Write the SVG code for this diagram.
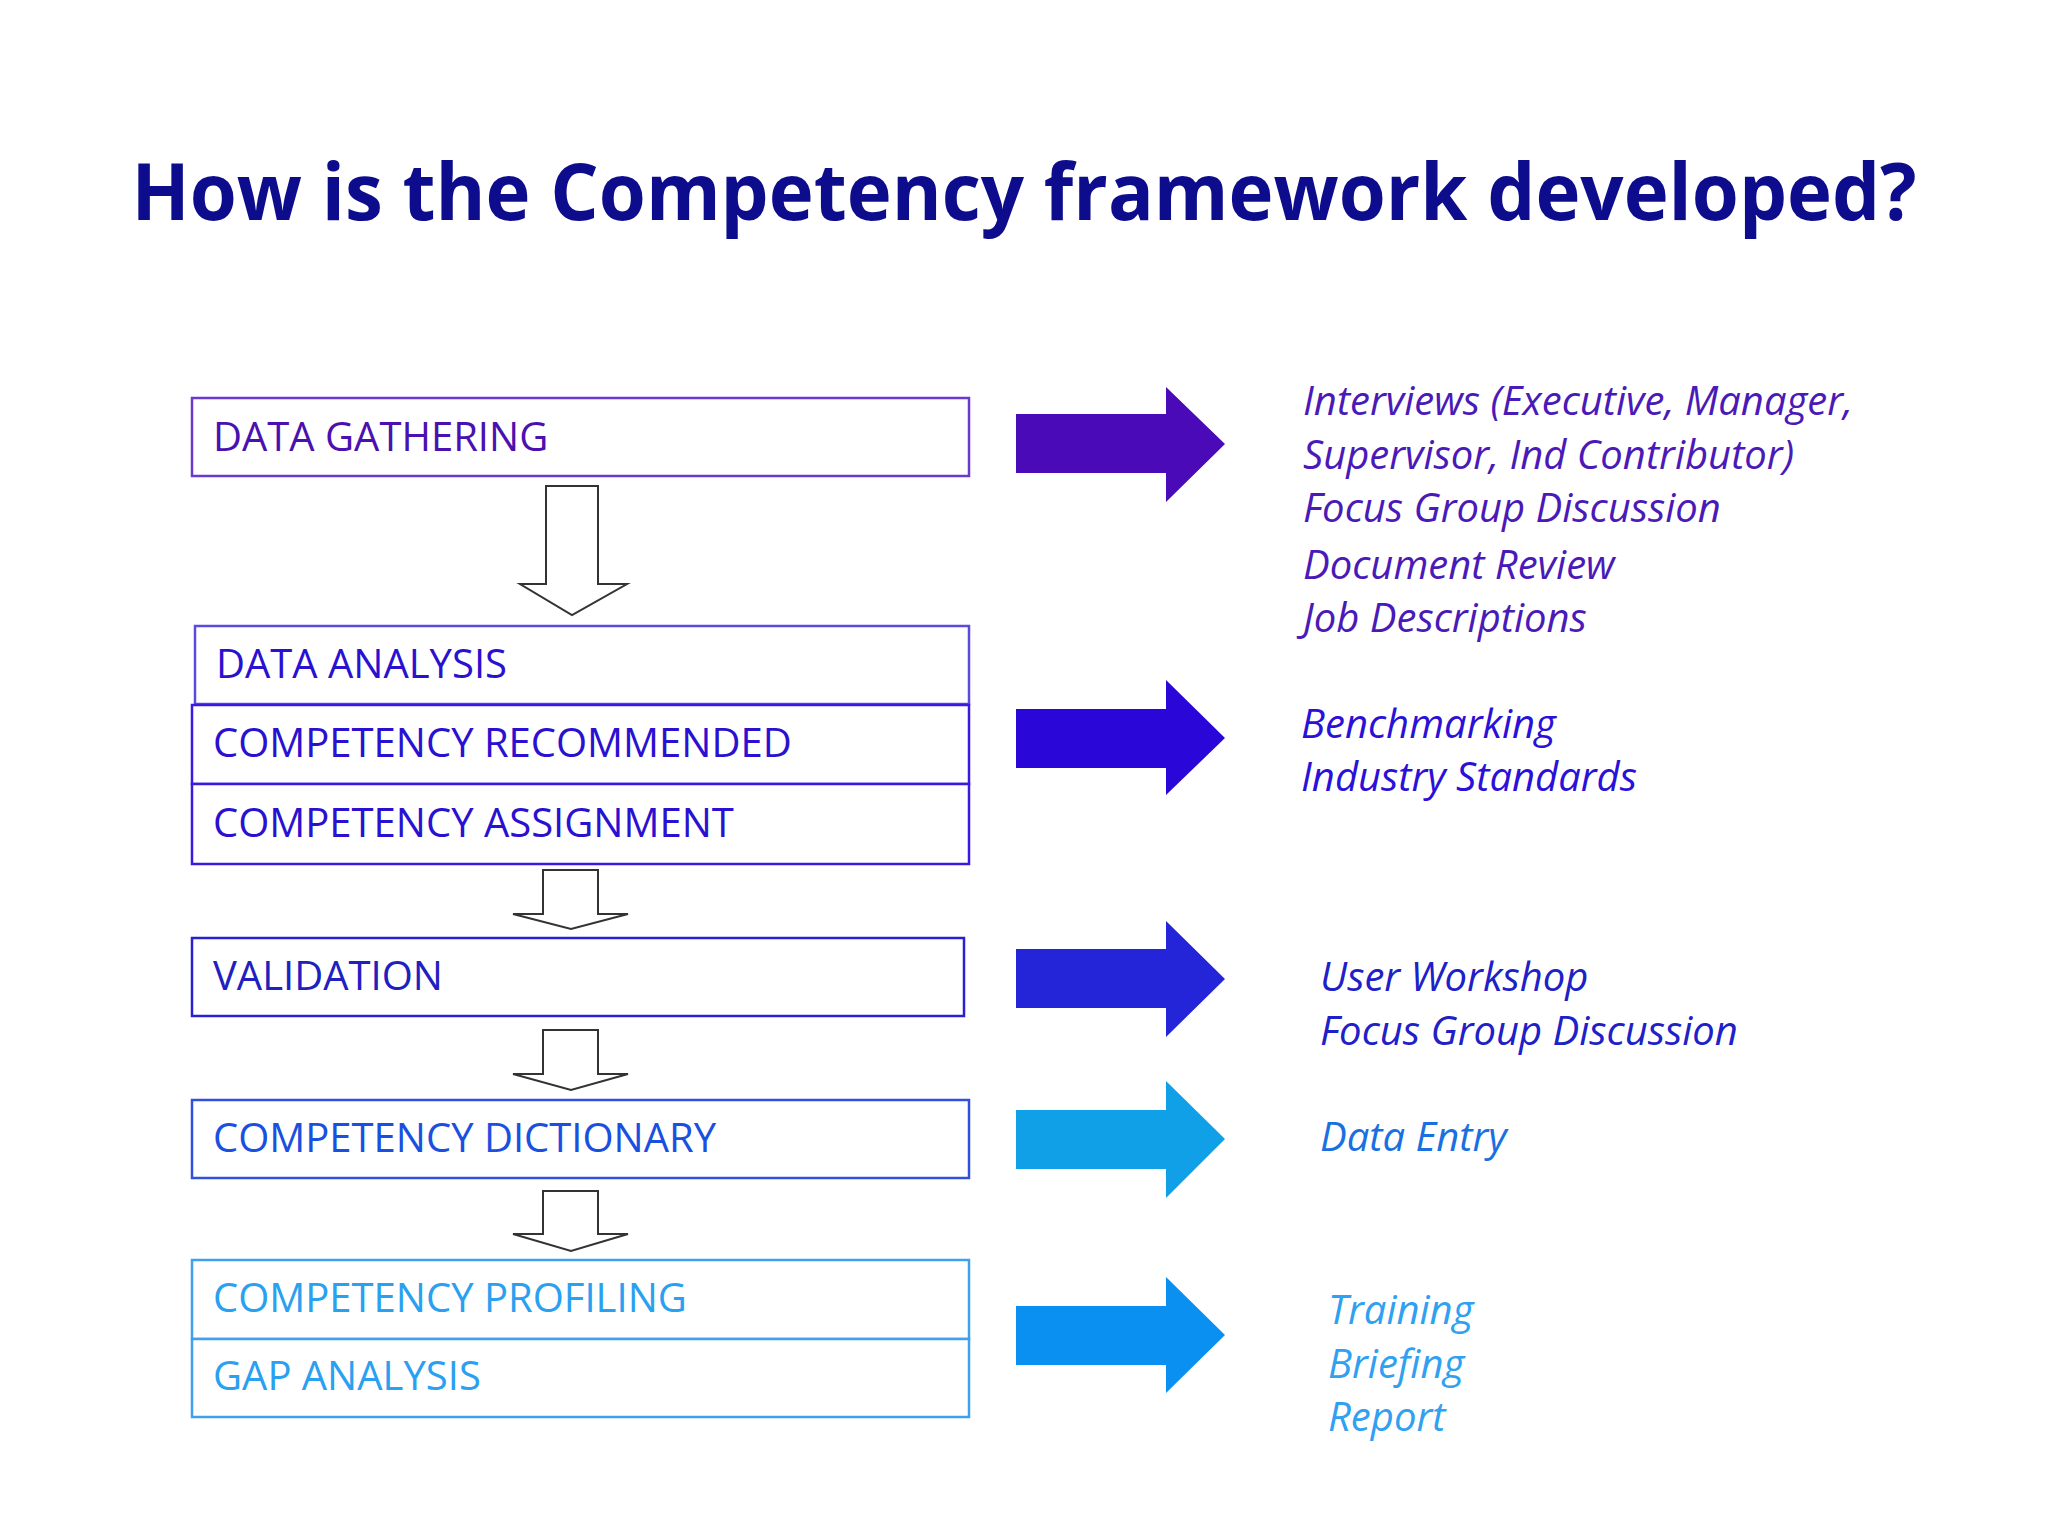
<svg xmlns="http://www.w3.org/2000/svg" width="2048" height="1536" viewBox="0 0 2048 1536">
<style>
.t{font-family:"Open Sans","Noto Sans",sans-serif;font-size:40px}
.r{font-family:"Open Sans","Noto Sans",sans-serif;font-size:40px;font-style:italic}
.box{fill:#fff;stroke-width:2.5}
.down{fill:#fff;stroke:#333;stroke-width:2}
</style>
<rect width="2048" height="1536" fill="#fff"/>
<text x="1024" y="220" text-anchor="middle" font-family="'Open Sans','Noto Sans',sans-serif" font-weight="bold" font-size="78" fill="#0c0c8c" textLength="1785" lengthAdjust="spacingAndGlyphs">How is the Competency framework developed?</text>
<g id="n1"><rect class="box" x="192" y="398" width="777" height="78" stroke="#6a3ad0"/><text class="t" x="213" y="451" fill="#4a10b0">DATA GATHERING</text></g>
<g id="n2"><rect class="box" x="195" y="626" width="774" height="78" stroke="#5a4ae0"/><text class="t" x="216" y="678" fill="#2a10d0">DATA ANALYSIS</text></g>
<g id="n3"><rect class="box" x="192" y="705" width="777" height="79" stroke="#3a1ae0"/><text class="t" x="213" y="757" fill="#2a10d0">COMPETENCY RECOMMENDED</text></g>
<g id="n4"><rect class="box" x="192" y="784" width="777" height="80" stroke="#3a1ae0"/><text class="t" x="213" y="837" fill="#2a10d0">COMPETENCY ASSIGNMENT</text></g>
<g id="n5"><rect class="box" x="192" y="938" width="772" height="78" stroke="#2a20d0"/><text class="t" x="213" y="990" fill="#2020c0">VALIDATION</text></g>
<g id="n6"><rect class="box" x="192" y="1100" width="777" height="78" stroke="#3050e0"/><text class="t" x="213" y="1152" fill="#1a50e0">COMPETENCY DICTIONARY</text></g>
<g id="n7"><rect class="box" x="192" y="1260" width="777" height="79" stroke="#40a0f0"/><text class="t" x="213" y="1312" fill="#2aa0f0">COMPETENCY PROFILING</text></g>
<g id="n8"><rect class="box" x="192" y="1339" width="777" height="78" stroke="#40a0f0"/><text class="t" x="213" y="1390" fill="#2aa0f0">GAP ANALYSIS</text></g>
<g id="connectors">
<path class="down" d="M546 486H598V584H627L572 615L520 584H546Z"/>
<path class="down" d="M543 870H598V914H628L571 929L513 914H543Z"/>
<path class="down" d="M543 1030H598V1074H628L571 1090L513 1074H543Z"/>
<path class="down" d="M543 1191H598V1234H628L571 1251L513 1234H543Z"/>
<path fill="#4a0ab8" d="M1016 414H1166V387L1225 444L1166 502V473H1016Z"/>
<path fill="#2a06d8" d="M1016 709H1166V680L1225 738L1166 795V768H1016Z"/>
<path fill="#2424d8" d="M1016 949H1166V921L1225 979L1166 1037V1008H1016Z"/>
<path fill="#10a0e8" d="M1016 1110H1166V1081L1225 1139L1166 1198V1169H1016Z"/>
<path fill="#0a90f0" d="M1016 1306H1166V1277L1225 1335L1166 1393V1365H1016Z"/>
</g>
<g id="notes">
<text class="r" fill="#4a1ab8"><tspan x="1303" y="415">Interviews (Executive, Manager,</tspan><tspan x="1303" y="469">Supervisor, Ind Contributor)</tspan><tspan x="1303" y="522">Focus Group Discussion</tspan><tspan x="1303" y="579">Document Review</tspan><tspan x="1303" y="632">Job Descriptions</tspan></text>
<text class="r" fill="#2a10d8"><tspan x="1301" y="738">Benchmarking</tspan><tspan x="1301" y="791">Industry Standards</tspan></text>
<text class="r" fill="#2020c8"><tspan x="1320" y="991">User Workshop</tspan><tspan x="1320" y="1045">Focus Group Discussion</tspan></text>
<text class="r" fill="#1a70e0" x="1320" y="1151">Data Entry</text>
<text class="r" fill="#30a0f0"><tspan x="1328" y="1324">Training</tspan><tspan x="1328" y="1378">Briefing</tspan><tspan x="1328" y="1431">Report</tspan></text>
</g>
</svg>
